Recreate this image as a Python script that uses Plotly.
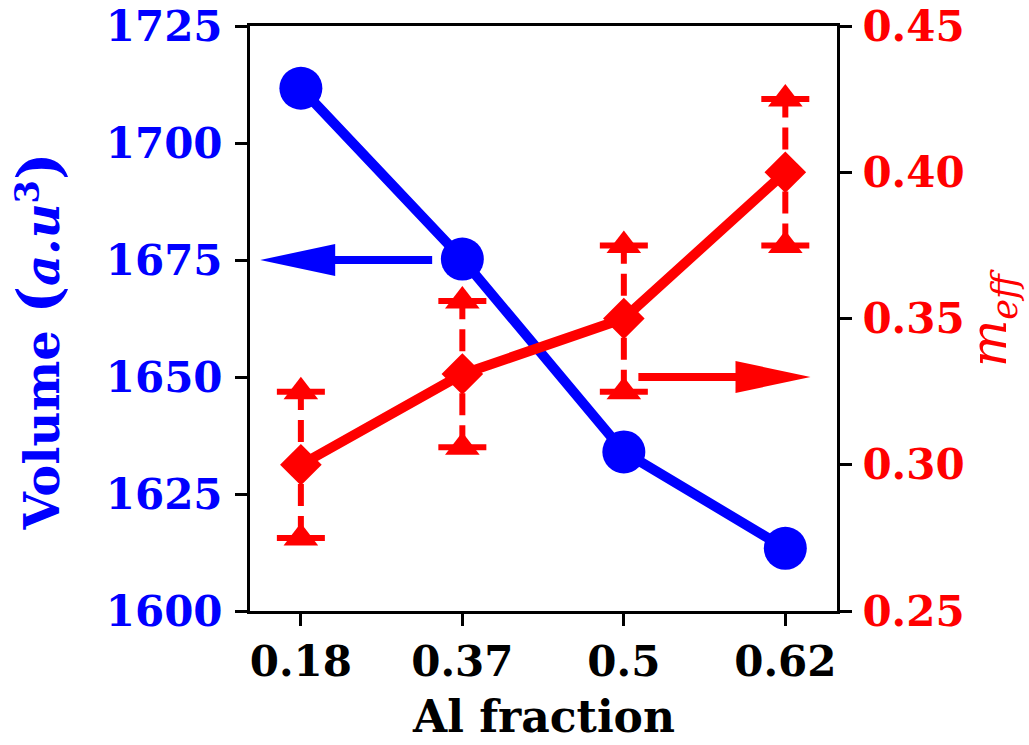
import plotly.graph_objects as go

# Al fraction categories (equally spaced on the x axis)
al_fraction = ["0.18", "0.37", "0.5", "0.62"]
# Cell volume, a.u^3 (left axis)
volume = [1711.7, 1675.2, 1634.0, 1613.4]
# Effective mass (right axis) and its uncertainty
m_eff = [0.300, 0.331, 0.350, 0.400]
m_eff_err = [0.025, 0.025, 0.025, 0.025]

BLUE = "#0000ff"
RED = "#ff0000"
FONT = "DejaVu Serif"

xpos = list(range(len(al_fraction)))
m_hi = [v + e for v, e in zip(m_eff, m_eff_err)]
m_lo = [v - e for v, e in zip(m_eff, m_eff_err)]

fig = go.Figure()

# Volume curve
fig.add_trace(go.Scatter(
    x=xpos, y=volume, mode="lines+markers", yaxis="y",
    line=dict(color=BLUE, width=10),
    marker=dict(symbol="circle", size=43, color=BLUE),
    showlegend=False,
))

# Dashed error-bar stems for m_eff
stem_x, stem_y = [], []
for x, lo, hi in zip(xpos, m_lo, m_hi):
    stem_x += [x, x, None]
    stem_y += [lo, hi, None]
fig.add_trace(go.Scatter(
    x=stem_x, y=stem_y, mode="lines", yaxis="y2",
    line=dict(color=RED, width=6, dash="22px,10px"),
    showlegend=False,
))

# Error-bar limits: triangle markers with horizontal caps
for ends in (m_hi, m_lo):
    fig.add_trace(go.Scatter(
        x=xpos, y=ends, mode="markers", yaxis="y2",
        marker=dict(symbol="triangle-up", size=30, color=RED),
        error_y=dict(type="constant", value=0, width=24, thickness=6, color=RED),
        showlegend=False,
    ))

# m_eff curve
fig.add_trace(go.Scatter(
    x=xpos, y=m_eff, mode="lines+markers", yaxis="y2",
    line=dict(color=RED, width=10),
    marker=dict(symbol="diamond", size=32, color=RED),
    showlegend=False,
))

# Arrows pointing each curve to its own axis
def axis_arrow(xref, yref, x_tail, x_tip, y, color):
    sign = 1 if x_tip < x_tail else -1
    return [
        dict(type="line", xref=xref, yref=yref,
             x0=x_tail, x1=x_tip + sign * 0.2, y0=y, y1=y,
             line=dict(color=color, width=8)),
        dict(type="path", xref=xref, yref=yref,
             xsizemode="pixel", ysizemode="pixel", xanchor=x_tip, yanchor=y,
             path=f"M0,0 L{sign*75},16 L{sign*75},-16 Z",
             fillcolor=color, line=dict(color=color, width=0)),
    ]

shapes = axis_arrow("x", "y", 0.813, -0.252, 1675, BLUE) + \
         axis_arrow("x", "y2", 2.09, 3.156, 0.33, RED)

tick_common = dict(ticks="outside", ticklen=12, tickwidth=2.5, tickcolor="black",
                   showline=True, linewidth=3, linecolor="black", showgrid=False,
                   zeroline=False, automargin=False)

fig.update_layout(
    width=1029, height=745,
    margin=dict(l=250, r=192, t=26, b=134),
    plot_bgcolor="white", paper_bgcolor="white",
    showlegend=False,
    xaxis=dict(
        range=[-0.315, 3.32], tickmode="array", tickvals=xpos, ticktext=al_fraction,
        tickfont=dict(family=FONT, size=42, color="black", weight="bold"),
        mirror=True, ticklabelstandoff=0, **tick_common,
    ),
    yaxis=dict(
        range=[1600, 1725], tickmode="linear", tick0=1600, dtick=25,
        tickfont=dict(family=FONT, size=42, color=BLUE, weight="bold"),
        ticklabelstandoff=4, **tick_common,
    ),
    yaxis2=dict(
        range=[0.25, 0.45], tickmode="linear", tick0=0.25, dtick=0.05,
        tickformat=".2f", overlaying="y", side="right",
        tickfont=dict(family=FONT, size=42, color=RED, weight="bold"),
        ticklabelstandoff=2, **tick_common,
    ),
    shapes=shapes,
    annotations=[
        dict(text="Al fraction", xref="paper", yref="paper", x=0.5, y=-0.181,
             xanchor="center", yanchor="middle", showarrow=False,
             font=dict(family=FONT, size=44, color="black", weight="bold")),
        dict(text="Volume <span style='font-size:58px'>(</span><i>a.u</i><sup>3</sup><span style='font-size:58px'>)</span>",
             xref="paper", yref="paper", x=-0.36, y=0.46,
             xanchor="center", yanchor="middle", textangle=-90, showarrow=False,
             font=dict(family=FONT, size=48, color=BLUE, weight="bold")),
        dict(text="<i>m</i><sub><i>eff</i></sub>",
             xref="paper", yref="paper", x=1.265, y=0.5,
             xanchor="center", yanchor="middle", textangle=-90, showarrow=False,
             font=dict(family=FONT, size=50, color=RED)),
    ],
)

fig.write_html("out.html")
